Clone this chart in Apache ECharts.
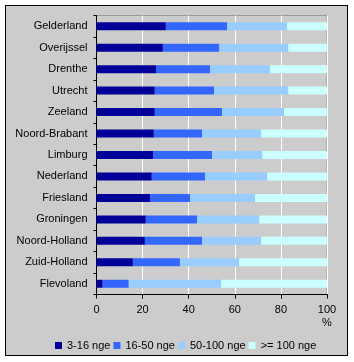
<!DOCTYPE html>
<html>
<head>
<meta charset="utf-8">
<script src="https://cdn.jsdelivr.net/npm/echarts@6/dist/echarts.min.js"></script>
<style>
  html, body { margin: 0; padding: 0; background: #ffffff; }
  .wrap { position: relative; width: 354px; height: 362px; }
  .frame { position: absolute; left: 5px; top: 5px; width: 341px; height: 349px; border: 1px solid #000; background: #cccccc; }
  #chart { position: absolute; left: 0; top: 0; width: 354px; height: 362px; }
</style>
</head>
<body>
<div class="wrap">
  <div class="frame"></div>
  <div id="chart"></div>
</div>
<script>
// provincies, van boven naar beneden
const provinces = ['Gelderland', 'Overijssel', 'Drenthe', 'Utrecht', 'Zeeland', 'Noord-Brabant', 'Limburg',
  'Nederland', 'Friesland', 'Groningen', 'Noord-Holland', 'Zuid-Holland', 'Flevoland'];

// aandelen per grootteklasse (%)
const nge3to16 = [30.1, 28.8, 25.8, 25.3, 25.3, 24.9, 24.5, 24.0, 23.2, 21.4, 21.0, 15.8, 2.7];
const nge16to50 = [26.6, 24.4, 23.5, 25.7, 29.2, 20.9, 25.6, 23.1, 17.4, 22.2, 24.8, 20.4, 11.3];
const nge50to100 = [26.0, 30.0, 26.0, 32.2, 26.9, 25.6, 21.8, 26.9, 28.2, 27.0, 25.6, 25.7, 40.0];
const nge100plus = [17.3, 16.8, 24.7, 16.8, 18.6, 28.6, 28.1, 26.0, 31.2, 29.4, 28.6, 38.1, 46.0];

const seriesNames = ['3-16 nge', '16-50 nge', '50-100 nge', '>= 100 nge'];
const seriesColors = ['#000099', '#3366ff', '#99ccff', '#ccffff'];
const xTicks = [0, 20, 40, 60, 80, 100];

const myChart = echarts.init(document.getElementById('chart'));

const makeSeries = (name, data, color) => ({
  name: name,
  type: 'bar',
  stack: 'totaal',
  data: data,
  barWidth: 8,
  itemStyle: { color: color },
  animation: false
});

const option = {
  backgroundColor: 'transparent',
  textStyle: { fontFamily: 'Liberation Sans, Arial, sans-serif' },
  grid: {
    left: 96.5,
    right: 27,
    top: 15.5,
    bottom: 67.5,
    show: true,
    borderColor: '#999999',
    borderWidth: 1,
    backgroundColor: 'transparent'
  },
  legend: {
    data: seriesNames,
    left: 50,
    top: 335,
    icon: 'rect',
    itemWidth: 7,
    itemHeight: 7,
    itemGap: 3,
    textStyle: { color: '#000', fontSize: 11, fontFamily: 'Liberation Sans, Arial, sans-serif' }
  },
  xAxis: {
    type: 'value',
    min: 0,
    max: 100,
    interval: 20,
    axisLine: { show: true, lineStyle: { color: '#000', width: 1 } },
    axisTick: { show: true, length: 4, lineStyle: { color: '#000' } },
    axisLabel: {
      color: '#000',
      fontSize: 11,
      margin: 9,
      lineHeight: 13,
      formatter: v => (xTicks.indexOf(v) === xTicks.length - 1 ? v + '\n%' : String(v))
    },
    splitLine: { show: true, lineStyle: { color: '#ffffff', width: 1 } }
  },
  yAxis: {
    type: 'category',
    data: provinces,
    inverse: true,
    axisLine: { show: true, lineStyle: { color: '#000', width: 1 } },
    axisTick: { show: true, length: 3, lineStyle: { color: '#000' } },
    axisLabel: { color: '#000', fontSize: 11, margin: 9 },
    splitLine: { show: false }
  },
  series: [
    makeSeries(seriesNames[0], nge3to16, seriesColors[0]),
    makeSeries(seriesNames[1], nge16to50, seriesColors[1]),
    makeSeries(seriesNames[2], nge50to100, seriesColors[2]),
    makeSeries(seriesNames[3], nge100plus, seriesColors[3])
  ]
};

myChart.setOption(option);
</script>
</body>
</html>
